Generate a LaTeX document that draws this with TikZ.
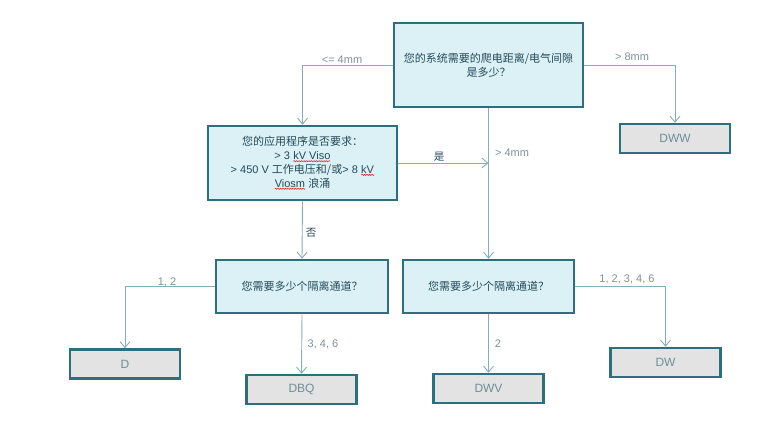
\documentclass[tikz,border=0pt]{standalone}
\usepackage{fontspec}
\setmainfont{Liberation Sans}
\newfontfamily\cjk{Noto Sans CJK SC}
\usepackage{xcolor}
\usetikzlibrary{arrows.meta}
\usetikzlibrary{decorations.pathmorphing}

\definecolor{boxline}{HTML}{2F6F7C}
\definecolor{boxfill}{HTML}{DCF1F5}
\definecolor{endfill}{HTML}{E3E3E3}
\definecolor{wirecol}{HTML}{86AEB8}
\definecolor{labeltext}{HTML}{7D9199}
\definecolor{endtext}{HTML}{6F8E99}
\definecolor{asktext}{HTML}{23495A}

% red spell-check squiggle under a word
\newcommand{\wavy}[1]{\tikz[baseline=(w.base)]{\node[draw=none, fill=none, inner sep=0pt, outer sep=0pt,
        minimum width=0pt, minimum height=0pt] (w) {#1};
    \draw[red, line width=0.5pt, decorate, decoration={snake, amplitude=0.6pt, segment length=2.5pt}]
    ([yshift=-1.6pt]w.south west) -- ([yshift=-1.6pt]w.south east);}}

\tikzset{
    question/.style={draw=boxline, line width=2.5pt, fill=boxfill, text=asktext, align=center,
        font=\fontsize{11}{13.8}\selectfont, inner sep=0pt},
    answer/.style={draw=boxline, line width=2.5pt, fill=endfill, text=endtext,
        font=\fontsize{12}{14}\selectfont, minimum width=110pt, minimum height=29pt, inner sep=0pt},
    wire/.style={draw=wirecol, line width=0.9pt, -{Straight Barb[length=6pt,width=10pt]}},
    branch/.style={text=labeltext, font=\fontsize{11}{13}\selectfont, inner sep=0pt},
    yesno/.style={text=asktext, font=\fontsize{10.5}{13}\selectfont\cjk, inner sep=0pt},
}

\begin{document}
\begin{tikzpicture}[x=1pt, y=-1pt]
                \useasboundingbox (0,0) rectangle (771,432);

                %questions
                \node[question, minimum width=189pt, minimum height=84pt] (size) at (488.5,65)
                    {{\cjk 您的系统需要的爬电距离/电气间隙}\\{\cjk 是多少？}};
                \node[question, minimum width=189pt, minimum height=74pt] (app) at (302.5,163)
                    {{\cjk 您的应用程序是否要求：}\\> 3 \wavy{kV Viso}\\> 450 V {\cjk 工作电压和/或}> 8 \wavy{kV}\\\wavy{Viosm} {\cjk 浪涌}};
                \node[question, minimum width=172pt, minimum height=53pt] (chanA) at (302,286.5)
                    {\cjk 您需要多少个隔离通道？};
                \node[question, minimum width=171pt, minimum height=53pt] (chanB) at (488.5,286.5)
                    {\cjk 您需要多少个隔离通道？};

                %packages
                \node[answer] (dww) at (675,138.5) {DWW};
                \node[answer] (d) at (125,364) {D};
                \node[answer] (dbq) at (301.5,389.5) {DBQ};
                \node[answer] (dwv) at (488.5,388.5) {DWV};
                \node[answer] (dw) at (665.5,362.5) {DW};

                %connectors
                \draw[wire] (size.west) -| (app.north);
                \draw[wire] (size.east) -| (dww.north);
                \draw[wire] (size.south) -- (chanB.north);
                \draw[wire] (app.east) -- (app.east -| size.south);
                \draw[wire] (app.south) -- (chanA.north);
                \draw[wire] (chanA.west) -| (d.north);
                \draw[wire] (chanA.south) -- (dbq.north);
                \draw[wire] (chanB.east) -| (dw.north);
                \draw[wire] (chanB.south) -- (dwv.north);

                %labels
                \node[branch] (le4) at (342,60) {<= 4mm};
                \node[branch] (gt8) at (632,57) {> 8mm};
                \node[branch] (gt4) at (512,153) {> 4mm};
                \node[yesno] (yes) at (439,157) {是};
                \node[yesno] (no) at (311,233) {否};
                \node[branch] (c12) at (167,282) {1, 2};
                \node[branch] (c346) at (323,344) {3, 4, 6};
                \node[branch] (call) at (627,279) {1, 2, 3, 4, 6};
                \node[branch] (c2) at (498,344) {2};

\end{tikzpicture}
\end{document}
